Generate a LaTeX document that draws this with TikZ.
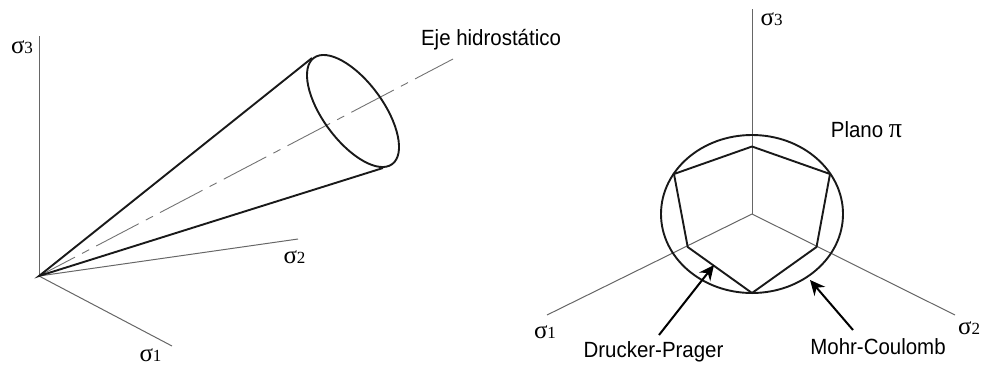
\documentclass[tikz,border=0pt]{standalone}
\usepackage{fontspec}
\setmainfont{Liberation Sans}
\newfontfamily\serifgreek{Liberation Serif}
\usetikzlibrary{arrows.meta}
\newcommand{\sig}[1]{{\serifgreek\fontsize{25}{25}\selectfont σ\fontsize{17}{17}\selectfont #1}}
\begin{document}
\begin{tikzpicture}[
    x=1pt, y=-1pt,
    every node/.style={text=black, inner sep=0pt, anchor=base},
    axisline/.style={line width=1pt, black!60},
    hidroline/.style={line width=0.9pt, black!55, dash pattern=on 48pt off 8pt on 8pt off 8pt, dash phase=7.4pt},
    contour/.style={line width=1.9pt, black!90},
    pointer/.style={line width=2pt, black, -{Stealth[length=15pt, width=14pt]}},
    rotulo/.style={font=\fontsize{22}{22}\selectfont, xscale=0.93}
]
    \useasboundingbox (0,0) rectangle (981,365);

    % ==========================
    % LEFT FIGURE: The Cone
    % ==========================
    \coordinate (O) at (39,276);
    \coordinate (S1) at (172,346);
    \coordinate (S2) at (298,239);
    \coordinate (S3) at (39,36);
    \coordinate (H) at (453,59);
    \coordinate (T1) at (312,58);
    \coordinate (T2) at (383,168);

    \foreach \i in {1,2,3}
        \draw[axisline] (O) -- (S\i);
    \draw[hidroline] (O) -- (H);

    \draw[contour] (T1) -- (O) -- (T2);
    \coordinate (base) at (353,111);
    \draw[contour] (base) ellipse [x radius=66pt, y radius=30pt, rotate=-53.6];

    \node (lbl3) at (22,53) {\sig{3}};
    \node (lbl2) at (294.5,263) {\sig{2}};
    \node (lbl1) at (150.5,361.5) {\sig{1}};
    \node[rotulo] (eje) at (491,45) {Eje hidrostático};

    % ==========================
    % RIGHT FIGURE: The Pi Plane
    % ==========================
    \coordinate (C) at (752,214);
    \coordinate (R1) at (547,315);
    \coordinate (R2) at (955,315);
    \coordinate (R3) at (752,9);

    \foreach \i in {1,2,3}
        \draw[axisline] (C) -- (R\i);

    \draw[contour] (C) ellipse [x radius=91pt, y radius=79pt];

    \foreach \i/\px/\py in {1/752/146.5, 2/830/174, 3/816.5/247, 4/752/293, 5/687.7/247, 6/674/174}
        \coordinate (P\i) at (\px,\py);
    \draw[contour] (P1) -- (P2) -- (P3) -- (P4) -- (P5) -- (P6) -- cycle;

    \node (lbr3) at (771.5,25) {\sig{3}};
    \node (lbr1) at (545,338) {\sig{1}};
    \node (lbr2) at (969,334) {\sig{2}};
    \node[rotulo] (plano) at (866.5,137) {Plano {\serifgreek\fontsize{28}{28}\selectfont π}};
    \node[rotulo] (dp) at (653.5,357) {Drucker-Prager};
    \node[rotulo] (mc) at (878,354) {Mohr-Coulomb};

    \coordinate (dpstart) at (659,335);
    \coordinate (dpend) at (714,265);
    \coordinate (mcstart) at (853,330);
    \coordinate (mcend) at (810,280);
    \draw[pointer] (dpstart) -- (dpend);
    \draw[pointer] (mcstart) -- (mcend);
\end{tikzpicture}
\end{document}
